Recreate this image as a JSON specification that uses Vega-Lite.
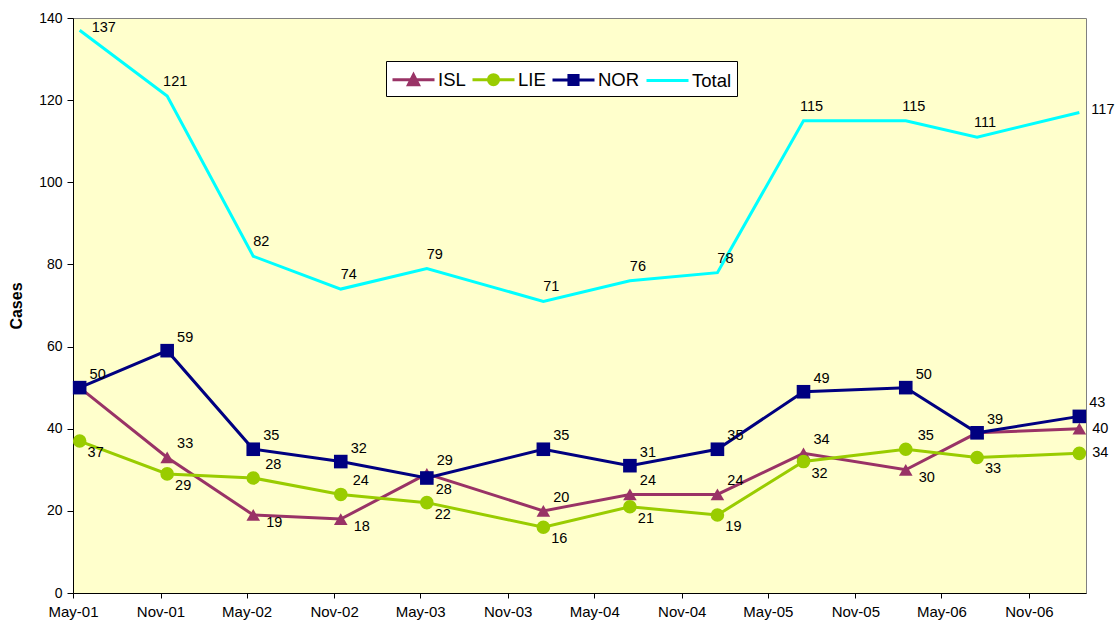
{
  "$schema": "https://vega.github.io/schema/vega-lite/v6.json",
  "width": 1013,
  "height": 575,
  "autosize": {"type": "none"},
  "padding": {"left": 73, "top": 18, "right": 32, "bottom": 29},
  "background": "white",
  "config": {
    "view": {"fill": "#FFFFCC", "stroke": "#808080", "strokeWidth": 1},
    "axis": {"labelFont": "Liberation Sans", "titleFont": "Liberation Sans", "labelColor": "black", "titleColor": "black", "domainColor": "black", "tickColor": "black", "grid": false},
    "text": {"font": "Liberation Sans"}
  },
  "data": {
    "values": [
      {"date": "2001-05-15", "series": "ISL", "value": 50},
      {"date": "2001-11-15", "series": "ISL", "value": 33},
      {"date": "2002-05-15", "series": "ISL", "value": 19},
      {"date": "2002-11-15", "series": "ISL", "value": 18},
      {"date": "2003-05-15", "series": "ISL", "value": 29},
      {"date": "2004-01-15", "series": "ISL", "value": 20},
      {"date": "2004-07-15", "series": "ISL", "value": 24},
      {"date": "2005-01-15", "series": "ISL", "value": 24},
      {"date": "2005-07-15", "series": "ISL", "value": 34},
      {"date": "2006-02-15", "series": "ISL", "value": 30},
      {"date": "2006-07-15", "series": "ISL", "value": 39},
      {"date": "2007-02-15", "series": "ISL", "value": 40},
      {"date": "2001-05-15", "series": "LIE", "value": 37},
      {"date": "2001-11-15", "series": "LIE", "value": 29},
      {"date": "2002-05-15", "series": "LIE", "value": 28},
      {"date": "2002-11-15", "series": "LIE", "value": 24},
      {"date": "2003-05-15", "series": "LIE", "value": 22},
      {"date": "2004-01-15", "series": "LIE", "value": 16},
      {"date": "2004-07-15", "series": "LIE", "value": 21},
      {"date": "2005-01-15", "series": "LIE", "value": 19},
      {"date": "2005-07-15", "series": "LIE", "value": 32},
      {"date": "2006-02-15", "series": "LIE", "value": 35},
      {"date": "2006-07-15", "series": "LIE", "value": 33},
      {"date": "2007-02-15", "series": "LIE", "value": 34},
      {"date": "2001-05-15", "series": "NOR", "value": 50},
      {"date": "2001-11-15", "series": "NOR", "value": 59},
      {"date": "2002-05-15", "series": "NOR", "value": 35},
      {"date": "2002-11-15", "series": "NOR", "value": 32},
      {"date": "2003-05-15", "series": "NOR", "value": 28},
      {"date": "2004-01-15", "series": "NOR", "value": 35},
      {"date": "2004-07-15", "series": "NOR", "value": 31},
      {"date": "2005-01-15", "series": "NOR", "value": 35},
      {"date": "2005-07-15", "series": "NOR", "value": 49},
      {"date": "2006-02-15", "series": "NOR", "value": 50},
      {"date": "2006-07-15", "series": "NOR", "value": 39},
      {"date": "2007-02-15", "series": "NOR", "value": 43},
      {"date": "2001-05-15", "series": "Total", "value": 137},
      {"date": "2001-11-15", "series": "Total", "value": 121},
      {"date": "2002-05-15", "series": "Total", "value": 82},
      {"date": "2002-11-15", "series": "Total", "value": 74},
      {"date": "2003-05-15", "series": "Total", "value": 79},
      {"date": "2004-01-15", "series": "Total", "value": 71},
      {"date": "2004-07-15", "series": "Total", "value": 76},
      {"date": "2005-01-15", "series": "Total", "value": 78},
      {"date": "2005-07-15", "series": "Total", "value": 115},
      {"date": "2006-02-15", "series": "Total", "value": 115},
      {"date": "2006-07-15", "series": "Total", "value": 111},
      {"date": "2007-02-15", "series": "Total", "value": 117}
    ]
  },
  "encoding": {
    "x": {
      "field": "date", "type": "temporal",
      "scale": {"type": "utc", "domain": [{"year": 2001, "month": 5, "date": 1, "utc": true}, {"year": 2007, "month": 3, "date": 1, "utc": true}]},
      "axis": {
        "title": null,
        "labelExpr": "utcFormat(datum.value, '%b-%y')",
        "values": [
          {"year": 2001, "month": 5, "date": 1, "utc": true}, {"year": 2001, "month": 11, "date": 1, "utc": true},
          {"year": 2002, "month": 5, "date": 1, "utc": true}, {"year": 2002, "month": 11, "date": 1, "utc": true},
          {"year": 2003, "month": 5, "date": 1, "utc": true}, {"year": 2003, "month": 11, "date": 1, "utc": true},
          {"year": 2004, "month": 5, "date": 1, "utc": true}, {"year": 2004, "month": 11, "date": 1, "utc": true},
          {"year": 2005, "month": 5, "date": 1, "utc": true}, {"year": 2005, "month": 11, "date": 1, "utc": true},
          {"year": 2006, "month": 5, "date": 1, "utc": true}, {"year": 2006, "month": 11, "date": 1, "utc": true}
        ],
        "tickSize": 5, "labelPadding": 6, "labelFontSize": 15, "labelOverlap": false, "labelFlush": false
      }
    }
  },
  "layer": [
    {
      "mark": {"type": "line"},
      "encoding": {
        "y": {"field": "value", "type": "quantitative", "scale": {"domain": [0, 140], "nice": false},
          "axis": {"values": [0, 20, 40, 60, 80, 100, 120, 140], "tickSize": 6, "labelPadding": 5, "labelFontSize": 14, "title": "Cases", "titleFontSize": 16, "titleFontWeight": "bold", "titlePadding": 14}},
        "color": {
          "field": "series", "type": "nominal",
          "scale": {"domain": ["ISL", "LIE", "NOR", "Total"], "range": ["#993366", "#99CC00", "#000080", "#00FFFF"]},
          "legend": {
            "orient": "none", "legendX": 313, "legendY": 43, "direction": "horizontal", "title": null,
            "fillColor": "white", "strokeColor": "black", "padding": 5, "cornerRadius": 0,
            "symbolSize": 576, "labelOffset": 20, "columnPadding": 0,
            "labelFont": "Liberation Sans", "labelFontSize": 18.5, "labelColor": "black", "labelLimit": 0,
            "symbolType": {"expr": "datum.value === 'ISL' ? 'M-1,0H2.5M0.33,0.4L0.75,-0.42L1.17,0.4Z' : datum.value === 'LIE' ? 'M-1,0H2.5M0.33,0A0.42,0.42 0 1,0 1.17,0A0.42,0.42 0 1,0 0.33,0Z' : datum.value === 'NOR' ? 'M-1,0H2.5M0.37,-0.38H1.13V0.38H0.37Z' : 'M-1,0H2.5'"},
            "symbolStrokeColor": {"expr": "scale('color', datum.value)"},
            "symbolFillColor": {"expr": "scale('color', datum.value)"},
            "symbolStrokeWidth": {"expr": "datum.value === 'Total' ? 1.2 : 3"},
            "symbolOpacity": 1
          }
        },
        "strokeWidth": {"field": "series", "type": "nominal", "scale": {"domain": ["ISL", "LIE", "NOR", "Total"], "range": [3, 3, 3, 1.2]}, "legend": null}
      }
    },
    {
      "transform": [{"filter": "datum.series !== 'Total'"}],
      "mark": {"type": "point", "filled": true, "opacity": 1, "size": 185},
      "encoding": {
        "y": {"field": "value", "type": "quantitative"},
        "color": {"field": "series", "type": "nominal", "legend": null},
        "shape": {"field": "series", "type": "nominal", "scale": {"domain": ["ISL", "LIE", "NOR"], "range": ["triangle-up", "circle", "square"]}, "legend": null}
      }
    },
    {
      "transform": [{"filter": "datum.series === 'Total' && time(datum.date) > utc(2001, 5, 1) && time(datum.date) < utc(2007, 0, 1)"}],
      "mark": {"type": "text", "align": "center", "baseline": "middle", "dx": 8, "dy": -14, "fontSize": 14.5, "color": "black"},
      "encoding": {"y": {"field": "value", "type": "quantitative"}, "text": {"field": "value", "type": "quantitative"}}
    },
    {
      "transform": [{"filter": "datum.series === 'Total' && (time(datum.date) < utc(2001, 5, 1) || time(datum.date) > utc(2007, 0, 1))"}],
      "mark": {"type": "text", "align": "left", "baseline": "middle", "dx": 12, "dy": -2, "fontSize": 14.5, "color": "black"},
      "encoding": {"y": {"field": "value", "type": "quantitative"}, "text": {"field": "value", "type": "quantitative"}}
    },
    {
      "transform": [{"pivot": "series", "value": "value", "groupby": ["date"]}, {"filter": "datum.NOR >= datum.ISL"}],
      "mark": {"type": "text", "align": "center", "baseline": "middle", "dx": 18, "dy": -13, "fontSize": 14.5, "color": "black"},
      "encoding": {"y": {"field": "NOR", "type": "quantitative"}, "text": {"field": "NOR", "type": "quantitative"}}
    },
    {
      "transform": [{"pivot": "series", "value": "value", "groupby": ["date"]}, {"filter": "datum.NOR < datum.ISL"}],
      "mark": {"type": "text", "align": "center", "baseline": "middle", "dx": 17, "dy": 12, "fontSize": 14.5, "color": "black"},
      "encoding": {"y": {"field": "NOR", "type": "quantitative"}, "text": {"field": "NOR", "type": "quantitative"}}
    },
    {
      "transform": [{"pivot": "series", "value": "value", "groupby": ["date"]}, {"filter": "datum.ISL >= datum.LIE && datum.ISL !== datum.NOR && time(datum.date) < utc(2007, 0, 1)"}],
      "mark": {"type": "text", "align": "center", "baseline": "middle", "dx": 18, "dy": -13, "fontSize": 14.5, "color": "black"},
      "encoding": {"y": {"field": "ISL", "type": "quantitative"}, "text": {"field": "ISL", "type": "quantitative"}}
    },
    {
      "transform": [{"pivot": "series", "value": "value", "groupby": ["date"]}, {"filter": "datum.ISL < datum.LIE"}],
      "mark": {"type": "text", "align": "center", "baseline": "middle", "dx": 21, "dy": 8, "fontSize": 14.5, "color": "black"},
      "encoding": {"y": {"field": "ISL", "type": "quantitative"}, "text": {"field": "ISL", "type": "quantitative"}}
    },
    {
      "transform": [{"pivot": "series", "value": "value", "groupby": ["date"]}, {"filter": "datum.LIE > datum.ISL"}],
      "mark": {"type": "text", "align": "center", "baseline": "middle", "dx": 20, "dy": -13, "fontSize": 14.5, "color": "black"},
      "encoding": {"y": {"field": "LIE", "type": "quantitative"}, "text": {"field": "LIE", "type": "quantitative"}}
    },
    {
      "transform": [{"pivot": "series", "value": "value", "groupby": ["date"]}, {"filter": "datum.LIE <= datum.ISL && time(datum.date) < utc(2007, 0, 1)"}],
      "mark": {"type": "text", "align": "center", "baseline": "middle", "dx": 16, "dy": 12, "fontSize": 14.5, "color": "black"},
      "encoding": {"y": {"field": "LIE", "type": "quantitative"}, "text": {"field": "LIE", "type": "quantitative"}}
    },
    {
      "transform": [{"filter": "(datum.series === 'ISL' || datum.series === 'LIE') && time(datum.date) > utc(2007, 0, 1)"}],
      "mark": {"type": "text", "align": "center", "baseline": "middle", "dx": 21, "dy": 0, "fontSize": 14.5, "color": "black"},
      "encoding": {"y": {"field": "value", "type": "quantitative"}, "text": {"field": "value", "type": "quantitative"}}
    }
  ]
}
